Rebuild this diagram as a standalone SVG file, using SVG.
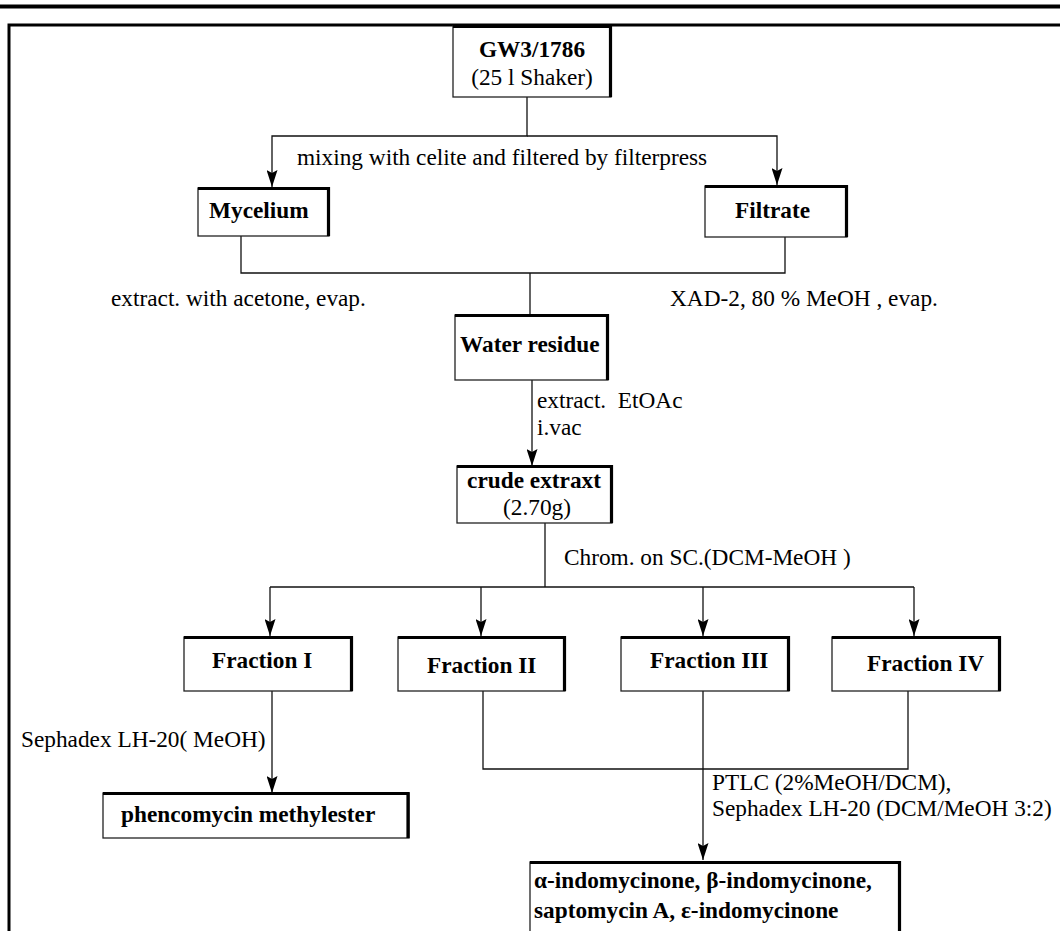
<svg xmlns="http://www.w3.org/2000/svg" width="1060" height="931" viewBox="0 0 1060 931">
<style>
.t{font-family:"Liberation Serif","Times New Roman",serif;font-size:23.3px;fill:#000}
.b{font-weight:bold}
.box{fill:#fff;stroke:#222;stroke-width:1.3}
.sh{fill:none;stroke:#000;stroke-width:3.2}
.ln{fill:none;stroke:#111;stroke-width:1.3}
</style>
<defs>
<marker id="ad" markerUnits="userSpaceOnUse" markerWidth="11" markerHeight="17" refX="5.5" refY="17" orient="0" viewBox="0 0 11 17">
<path d="M0,0 L5.5,17 L11,0 L5.5,3 Z" fill="#000"/>
</marker>
</defs>
<rect width="1060" height="931" fill="#fff"/>
<rect x="0" y="4.5" width="1060" height="4" fill="#000"/>
<path d="M9,931 V25 H1060" fill="none" stroke="#000" stroke-width="3"/>

<g id="connectors">
<path class="ln" d="M527,97 V136 H272 V187" marker-end="url(#ad)"/>
<path class="ln" d="M527,136 H777 V185" marker-end="url(#ad)"/>
<path class="ln" d="M241,236 V273 H785 V237"/>
<path class="ln" d="M530,273 V315"/>
<path class="ln" d="M532,380 V466" marker-end="url(#ad)"/>
<path class="ln" d="M545,523 V587"/>
<path class="ln" d="M270,587 H914"/>
<path class="ln" d="M270,587 V636" marker-end="url(#ad)"/>
<path class="ln" d="M481,587 V636" marker-end="url(#ad)"/>
<path class="ln" d="M703,587 V636" marker-end="url(#ad)"/>
<path class="ln" d="M914,587 V636" marker-end="url(#ad)"/>
<path class="ln" d="M272,691 V793" marker-end="url(#ad)"/>
<path class="ln" d="M483,691 V769 H908 V691"/>
<path class="ln" d="M703,691 V860" marker-end="url(#ad)"/>
</g>

<g id="labels">
<text class="t" x="297" y="165">mixing with celite and filtered by filterpress</text>
<text class="t" x="111" y="306">extract. with acetone, evap.</text>
<text class="t" x="670" y="306">XAD-2, 80 % MeOH , evap.</text>
<text class="t" x="537" y="408">extract.&#160; EtOAc</text>
<text class="t" x="537" y="435">i.vac</text>
<text class="t" x="564" y="565">Chrom. on SC.(DCM-MeOH )</text>
<text class="t" x="21" y="747">Sephadex LH-20( MeOH)</text>
<text class="t" x="712" y="790">PTLC (2%MeOH/DCM),</text>
<text class="t" x="712" y="816">Sephadex LH-20 (DCM/MeOH 3:2)</text>
</g>

<g id="n-gw3">
<rect class="box" x="453" y="26" width="158" height="71"/>
<path class="sh" d="M453,26.5 H610.5 V97"/>
<text class="t b" x="532" y="57" text-anchor="middle">GW3/1786</text>
<text class="t" x="532" y="85" text-anchor="middle">(25 l Shaker)</text>
</g>

<g id="n-mycelium">
<rect class="box" x="198" y="188" width="131" height="48"/>
<path class="sh" d="M198,188.5 H328.5 V236"/>
<text class="t b" x="209" y="218">Mycelium</text>
</g>

<g id="n-filtrate">
<rect class="box" x="705" y="186" width="142" height="51"/>
<path class="sh" d="M705,186.5 H846.5 V237"/>
<text class="t b" x="735" y="218">Filtrate</text>
</g>

<g id="n-water">
<rect class="box" x="455" y="315" width="153" height="65"/>
<path class="sh" d="M455,315.5 H607.5 V380"/>
<text class="t b" x="460" y="352">Water residue</text>
</g>

<g id="n-crude">
<rect class="box" x="457" y="466" width="155" height="57"/>
<path class="sh" d="M457,466.5 H611.5 V523"/>
<text class="t b" x="534" y="488" text-anchor="middle">crude extraxt</text>
<text class="t" x="537" y="515" text-anchor="middle">(2.70g)</text>
</g>

<g id="n-frac1">
<rect class="box" x="184" y="637" width="168" height="54"/>
<path class="sh" d="M184,637.5 H351.5 V691"/>
<text class="t b" x="212" y="668">Fraction I</text>
</g>

<g id="n-frac2">
<rect class="box" x="398" y="637" width="167" height="54"/>
<path class="sh" d="M398,637.5 H564.5 V691"/>
<text class="t b" x="427" y="673">Fraction II</text>
</g>

<g id="n-frac3">
<rect class="box" x="621" y="637" width="168" height="54"/>
<path class="sh" d="M621,637.5 H788.5 V691"/>
<text class="t b" x="650" y="668">Fraction III</text>
</g>

<g id="n-frac4">
<rect class="box" x="832" y="637" width="168" height="54"/>
<path class="sh" d="M832,637.5 H999.5 V691"/>
<text class="t b" x="867" y="671">Fraction IV</text>
</g>

<g id="n-phencomycin">
<rect class="box" x="103" y="793" width="306" height="45"/>
<path class="sh" d="M103,793.5 H408 V838"/>
<text class="t b" x="121" y="822">phencomycin methylester</text>
</g>

<g id="n-final">
<rect class="box" x="530" y="862" width="370" height="80"/>
<path class="sh" d="M530,862.5 H899.5 V931"/>
<text class="t b" x="534" y="888">α-indomycinone, β-indomycinone,</text>
<text class="t b" x="534" y="918">saptomycin A, ε-indomycinone</text>
</g>
</svg>
